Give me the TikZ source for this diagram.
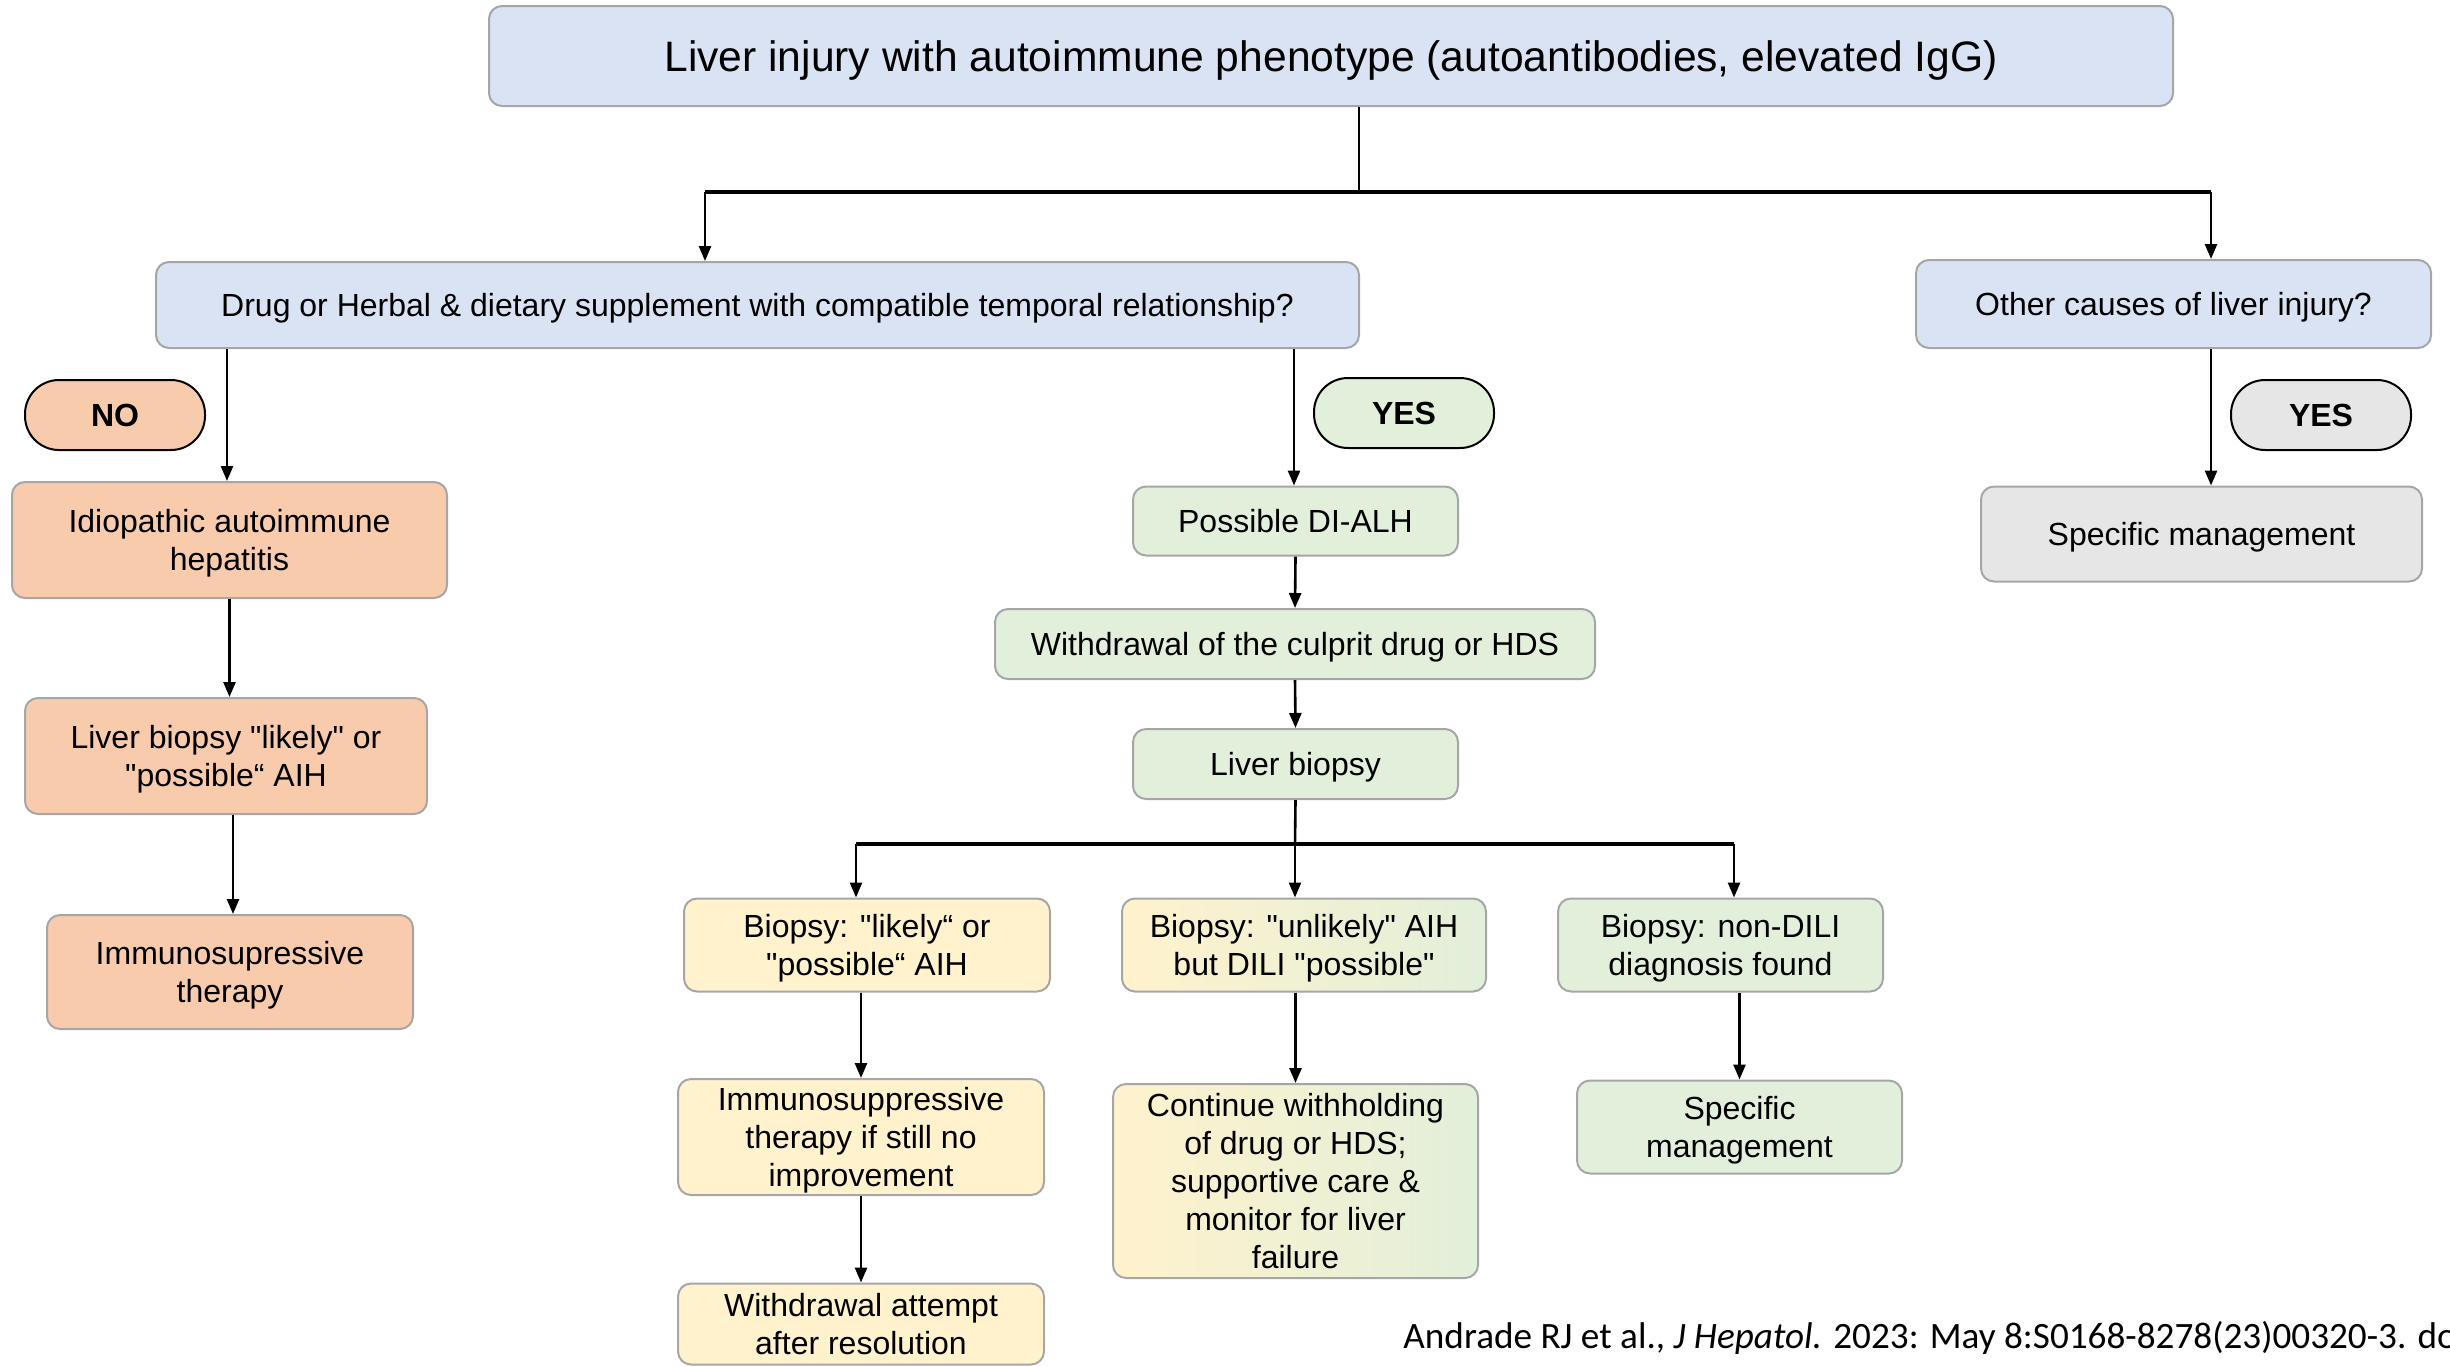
\documentclass[tikz,border=0pt]{standalone}
\usepackage{fontspec}
\setmainfont{Liberation Sans}[Ligatures=TeXOff]
\newfontfamily\citefont{Carlito}
\usetikzlibrary{arrows.meta,calc}
\definecolor{cblue}{HTML}{DAE3F3}
\definecolor{cpeach}{HTML}{F8CBAD}
\definecolor{cyellow}{HTML}{FFF2CC}
\definecolor{cgreen}{HTML}{E2EFDA}
\definecolor{cgray}{HTML}{E7E6E6}
\definecolor{cborder}{HTML}{A6A6A6}
\tikzset{
  box/.style={draw=cborder, line width=1pt, rounded corners=6.5pt, align=center,
    inner sep=2pt, text depth=0pt, font=\fontsize{16}{19}\selectfont, text=black},
  pill/.style={draw=black, line width=1pt, rounded corners=17pt, align=center,
    minimum width=90pt, minimum height=35pt, inner sep=0pt,
    font=\fontsize{16}{19}\selectfont\bfseries},
  vline/.style={line width=1.3pt, draw=black},
  hline/.style={line width=2pt, draw=black},
  arr/.style={line width=1.3pt, draw=black, -{Triangle[length=7.5pt,width=6pt]}},
}
\begin{document}
\begin{tikzpicture}[x=0.5pt,y=-0.5pt]
\useasboundingbox (0,0) rectangle (2450,1366);

% top
\node[box, fill=cblue, minimum width=842pt, minimum height=50pt,
  font=\fontsize{21.3}{26}\selectfont] (top) at (1331,56)
  {Liver injury with autoimmune phenotype (autoantibodies, elevated IgG)};

% second level
\node[box, fill=cblue, minimum width=601.5pt, minimum height=43pt] (drug) at (757.5,305)
  {Drug or Herbal \& dietary supplement with compatible temporal relationship?};
\node[box, fill=cblue, minimum width=257.5pt, minimum height=44pt] (other) at (2173.5,304)
  {Other causes of liver injury?};

% left branch
\node[pill, fill=cpeach] (no) at (115,415) {NO};
\node[box, fill=cpeach, minimum width=217.5pt, minimum height=58pt] (idio) at (229.5,540)
  {Idiopathic autoimmune\\hepatitis};
\node[box, fill=cpeach, minimum width=201pt, minimum height=58pt] (lbl) at (226,756)
  {Liver biopsy "likely" or\\"possible“ AIH};
\node[box, fill=cpeach, minimum width=183pt, minimum height=57pt] (imm) at (230,972)
  {Immunosupressive\\therapy};

% middle branch
\node[pill, fill=cgreen] (yes1) at (1404,413) {YES};
\node[box, fill=cgreen, minimum width=162.5pt, minimum height=34.5pt] (dialh) at (1295.5,521)
  {Possible DI-ALH};
\node[box, fill=cgreen, minimum width=300pt, minimum height=35pt] (withd) at (1295,644)
  {Withdrawal of the culprit drug or HDS};
\node[box, fill=cgreen, minimum width=162.5pt, minimum height=35pt] (lb) at (1295.5,764)
  {Liver biopsy};

\node[box, fill=cyellow, minimum width=183pt, minimum height=46.5pt] (bl) at (867,945)
  {Biopsy: "likely“ or\\"possible“ AIH};
\node[box, left color=cyellow, right color=cgreen, minimum width=182pt, minimum height=46.5pt] (bu) at (1304,945)
  {Biopsy: "unlikely" AIH\\but DILI "possible"};
\node[box, fill=cgreen, minimum width=162.5pt, minimum height=46.5pt] (bn) at (1720.5,945)
  {Biopsy: non-DILI\\diagnosis found};

\node[box, fill=cyellow, minimum width=183pt, minimum height=58pt] (ist) at (861,1137)
  {Immunosuppressive\\therapy if still no\\improvement};
\node[box, fill=cyellow, minimum width=183pt, minimum height=40.5pt] (wa) at (861,1324)
  {Withdrawal attempt\\after resolution};
\node[box, left color=cyellow, right color=cgreen, minimum width=182.5pt, minimum height=97pt] (cw) at (1295.5,1181)
  {Continue withholding\\of drug or HDS;\\supportive care \&\\monitor for liver\\failure};
\node[box, fill=cgreen, minimum width=162.5pt, minimum height=46.5pt] (sm) at (1739.5,1127)
  {Specific\\management};

% right branch
\node[pill, fill=cgray] (yes2) at (2321,415) {YES};
\node[box, fill=cgray, minimum width=220.5pt, minimum height=47.5pt] (smg) at (2201.5,534)
  {Specific management};

% citation
\node[anchor=base west, inner sep=0pt, font=\citefont\fontsize{18.6}{22}\selectfont] (cite) at (1403,1348)
  {Andrade RJ et al., \textit{J Hepatol.} 2023: May 8:S0168-8278(23)00320-3. do};

% connectors: top split
\coordinate (j1) at (1359,192);
\coordinate (jL) at (705,192);
\coordinate (jR) at (2211,192);
\draw[vline] (top.south -| j1) -- (j1);
\draw[hline] (jL) -- (jR);
\draw[arr] (jL) -- (jL |- drug.north);
\draw[arr] (jR) -- (jR |- other.north);

% left
\coordinate (xL1) at (227,0);
\draw[arr] (xL1 |- drug.south) -- (xL1 |- idio.north);
\draw[arr] (idio.south) -- (idio.south |- lbl.north);
\coordinate (xL2) at (233,0);
\draw[arr] (xL2 |- lbl.south) -- (xL2 |- imm.north);

% middle
\coordinate (xM) at (1294,0);
\draw[arr] (xM |- drug.south) -- (xM |- dialh.north);
\draw[arr] (dialh.south) -- (withd.north);
\draw[arr] (withd.south) -- (lb.north);
\coordinate (j2) at (1295,844);
\coordinate (j2L) at (856,844);
\coordinate (j2R) at (1734,844);
\draw[vline] (lb.south) -- (j2);
\draw[hline] (j2L) -- (j2R);
\draw[arr] (j2L) -- (j2L |- bl.north);
\draw[arr] (j2) -- (j2 |- bu.north);
\draw[arr] (j2R) -- (j2R |- bn.north);
\draw[arr] (ist.north |- bl.south) -- (ist.north);
\draw[arr] (ist.south) -- (wa.north);
\draw[arr] (cw.north |- bu.south) -- (cw.north);
\draw[arr] (sm.north |- bn.south) -- (sm.north);

% right
\draw[arr] (jR |- other.south) -- (jR |- smg.north);
\end{tikzpicture}
\end{document}
